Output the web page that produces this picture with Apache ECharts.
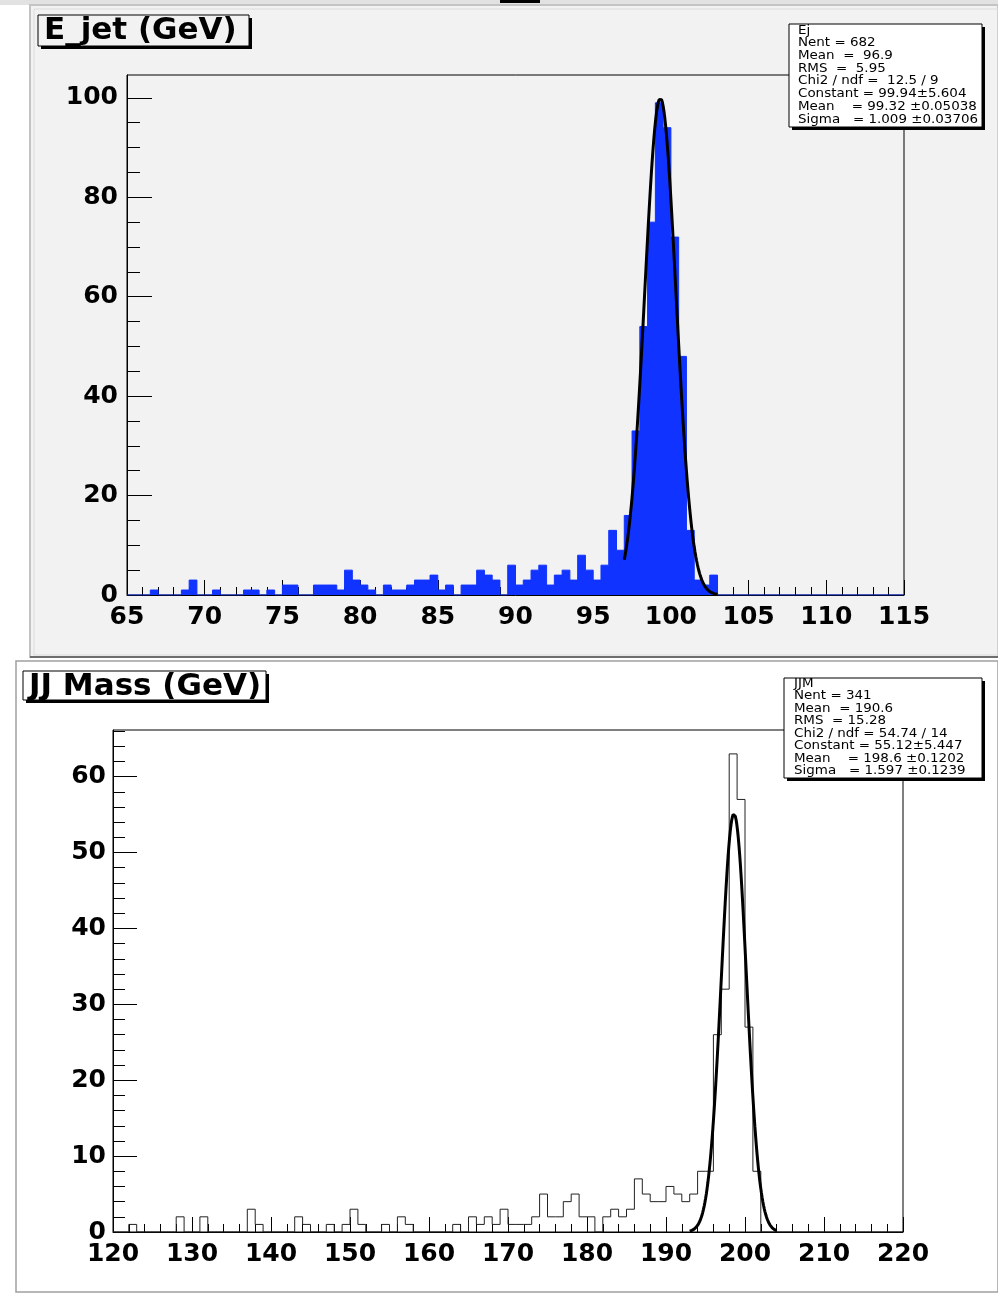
<!DOCTYPE html>
<html>
<head>
<meta charset="utf-8">
<script src="https://cdn.jsdelivr.net/npm/echarts@6/dist/echarts.min.js"></script>
<style>
  html, body { margin: 0; padding: 0; background: #ffffff; }
  #chart { width: 998px; height: 1294px; }
</style>
</head>
<body>
<div id="chart"></div>
<script>
// ---- E_jet: 100 bins of 0.5 GeV between 65 and 115 ----
const eJetLow = 65;
const eJetBinWidth = 0.5;
const eJetCounts = [
  0, 0, 0, 1, 0, 0, 0, 1, 3, 0,
  0, 1, 0, 0, 0, 1, 1, 0, 1, 0,
  2, 2, 0, 0, 2, 2, 2, 1, 5, 3,
  2, 1, 0, 2, 1, 1, 2, 3, 3, 4,
  1, 2, 0, 2, 2, 5, 4, 3, 0, 6,
  2, 3, 5, 6, 2, 4, 5, 3, 8, 5,
  3, 6, 13, 9, 16, 33, 54, 75, 99, 94,
  72, 48, 13, 3, 2, 4, 0, 0, 0, 0,
  0, 0, 0, 0, 0, 0, 0, 0, 0, 0,
  0, 0, 0, 0, 0, 0, 0, 0, 0, 0
];
const eJetTicksX = [65, 70, 75, 80, 85, 90, 95, 100, 105, 110, 115];
const eJetTicksY = [0, 20, 40, 60, 80, 100];
const eJetYMax = 104.6;
// Gaussian fit of the peak
const eJetFitConstant = 99.94;
const eJetFitMean = 99.32;
const eJetFitSigma = 1.009;
const eJetFitRange = [97, 103];
const eJetStats = [
  'Ej',
  'Nent = 682',
  'Mean  =  96.9',
  'RMS  =  5.95',
  'Chi2 / ndf =  12.5 / 9',
  'Constant = 99.94\u00b15.604',
  'Mean    = 99.32 \u00b10.05038',
  'Sigma   = 1.009 \u00b10.03706'
];

// ---- JJ mass: 100 bins of 1 GeV between 120 and 220 ----
const jjLow = 120;
const jjBinWidth = 1;
const jjCounts = [
  0, 0, 1, 0, 0, 0, 0, 0, 2, 0,
  0, 2, 0, 0, 0, 0, 0, 3, 1, 0,
  0, 0, 0, 2, 1, 0, 0, 1, 0, 1,
  3, 1, 0, 0, 1, 0, 2, 1, 0, 0,
  0, 0, 0, 1, 0, 2, 1, 2, 1, 3,
  1, 1, 1, 2, 5, 2, 2, 4, 5, 2,
  2, 0, 2, 3, 2, 3, 7, 5, 4, 4,
  6, 5, 4, 5, 8, 8, 26, 32, 63, 57,
  27, 8, 0, 0, 0, 0, 0, 0, 0, 0,
  0, 0, 0, 0, 0, 0, 0, 0, 0, 0
];
const jjTicksX = [120, 130, 140, 150, 160, 170, 180, 190, 200, 210, 220];
const jjTicksY = [0, 10, 20, 30, 40, 50, 60];
const jjYMax = 66.15;
const jjFitConstant = 55.12;
const jjFitMean = 198.6;
const jjFitSigma = 1.597;
const jjFitRange = [193, 204];
const jjStats = [
  'JJM',
  'Nent = 341',
  'Mean  = 190.6',
  'RMS  = 15.28',
  'Chi2 / ndf = 54.74 / 14',
  'Constant = 55.12\u00b15.447',
  'Mean    = 198.6 \u00b10.1202',
  'Sigma   = 1.597 \u00b10.1239'
];

// histogram outline points (step after each bin edge)
function histSteps(low, width, counts) {
  const pts = counts.map((c, i) => [low + i * width, c]);
  pts.push([low + counts.length * width, counts[counts.length - 1]]);
  return pts;
}
// fitted gaussian sampled across its fit range
function gaussian(constant, mean, sigma, range) {
  const pts = [];
  const n = 120;
  for (let i = 0; i <= n; i++) {
    const x = range[0] + (range[1] - range[0]) * i / n;
    const t = (x - mean) / sigma;
    pts.push([x, constant * Math.exp(-0.5 * t * t)]);
  }
  return pts;
}
function minorValues(step, major, max) {
  const out = [];
  for (let v = step; v <= max + 1e-9; v += step) {
    if (Math.abs(v / major - Math.round(v / major)) > 1e-6) out.push(+v.toFixed(6));
  }
  return out;
}

const labelFont = {
  color: '#000', fontFamily: 'DejaVu Sans', fontWeight: 'bold', fontSize: 25
};
const black = { color: '#000', width: 1 };

function xAxisFor(grid, min, max, interval, ticks, minorSplit) {
  return {
    gridIndex: grid, type: 'value', min: min, max: max, interval: interval,
    axisLine: { show: true, onZero: false, lineStyle: black },
    axisTick: { show: true, inside: true, length: 15, lineStyle: black },
    minorTick: { show: true, splitNumber: minorSplit, length: 8, lineStyle: black },
    splitLine: { show: false }, minorSplitLine: { show: false },
    axisLabel: Object.assign({ margin: 10, customValues: ticks }, labelFont)
  };
}
function yAxesFor(grid, max, ticks, minor, majorLen, minorLen, margin) {
  return [{
    gridIndex: grid, type: 'value', min: 0, max: max, position: 'left',
    axisLine: { show: true, onZero: false, lineStyle: black },
    axisTick: { show: true, inside: true, length: majorLen, lineStyle: black, customValues: ticks },
    splitLine: { show: false },
    axisLabel: Object.assign({ margin: margin, customValues: ticks }, labelFont)
  }, {
    gridIndex: grid, type: 'value', min: 0, max: max, position: 'left',
    axisLine: { show: false },
    axisTick: { show: true, inside: true, length: minorLen, lineStyle: black, customValues: minor },
    splitLine: { show: false },
    axisLabel: { show: false }
  }];
}

// boxed text block (title or statistics) with a dark drop shadow
function textBox(x, y, w, h, fill, lines, opts) {
  const els = [
    { type: 'rect', z: 100, shape: { x: x + 3, y: y + 3, width: w, height: h }, style: { fill: '#000' } },
    { type: 'rect', z: 101, shape: { x: x, y: y, width: w, height: h }, style: { fill: fill, stroke: '#000', lineWidth: 1 } }
  ];
  lines.forEach((t, i) => {
    els.push({
      type: 'text', z: 102, x: x + opts.padX, y: y + opts.firstY + i * opts.lineGap,
      scaleX: opts.scaleX,
      style: {
        text: t, fill: '#000', font: opts.font, textAlign: 'left', textVerticalAlign: 'middle'
      }
    });
  });
  return els;
}

const topStatOpts = { padX: 9, firstY: 6.5, lineGap: 12.7, scaleX: 1.12, font: '12px "DejaVu Sans"' };
const bottomStatOpts = { padX: 10, firstY: 5.5, lineGap: 12.5, scaleX: 1.12, font: '12px "DejaVu Sans"' };
const titleOpts = { padX: 6, firstY: 16, lineGap: 0, scaleX: 1.0, font: 'bold 31px "DejaVu Sans"' };

const graphics = [
  // canvas backgrounds and pad borders
  { type: 'rect', z: -20, shape: { x: 0, y: 0, width: 998, height: 5 }, style: { fill: '#e2e2e2' } },
  { type: 'rect', z: -19, shape: { x: 30, y: 5, width: 968, height: 652 }, style: { fill: '#f2f2f2', stroke: '#c4c4c4', lineWidth: 2 } },
  { type: 'rect', z: -19, shape: { x: 34, y: 9, width: 964, height: 646 }, style: { fill: 'transparent', stroke: '#dcdcdc', lineWidth: 1 } },
  { type: 'rect', z: -19, shape: { x: 30, y: 656, width: 968, height: 2 }, style: { fill: '#6e6e6e' } },
  { type: 'rect', z: -17, shape: { x: 16, y: 661, width: 982, height: 631 }, style: { fill: '#ffffff', stroke: '#a0a0a0', lineWidth: 1.5 } },
  { type: 'rect', z: -16, shape: { x: 500, y: 0, width: 40, height: 3 }, style: { fill: '#000' } }
]
  .concat(textBox(38, 15, 211, 31, '#f2f2f2', ['E_jet (GeV)'], titleOpts))
  .concat(textBox(23, 671, 243, 29, '#ffffff', ['JJ Mass (GeV)'], titleOpts))
  .concat(textBox(789, 24, 193, 103, '#ffffff', eJetStats, topStatOpts))
  .concat(textBox(784, 678, 198, 100, '#ffffff', jjStats, bottomStatOpts));

const option = {
  backgroundColor: '#ffffff',
  animation: false,
  grid: [
    { left: 127, top: 75, width: 777, height: 520, show: true, borderColor: '#000', borderWidth: 1, backgroundColor: 'transparent' },
    { left: 113, top: 730, width: 790, height: 502, show: true, borderColor: '#000', borderWidth: 1, backgroundColor: 'transparent' }
  ],
  xAxis: [
    xAxisFor(0, 65, 115, 5, eJetTicksX, 5),
    xAxisFor(1, 120, 220, 10, jjTicksX, 5)
  ],
  yAxis: yAxesFor(0, eJetYMax, eJetTicksY, minorValues(5, 20, eJetYMax), 25, 13, 9)
    .concat(yAxesFor(1, jjYMax, jjTicksY, minorValues(2, 10, jjYMax), 24, 12, 7)),
  series: [
    {
      type: 'line', xAxisIndex: 0, yAxisIndex: 0, step: 'end', showSymbol: false, silent: true,
      data: histSteps(eJetLow, eJetBinWidth, eJetCounts),
      lineStyle: { color: '#1133ff', width: 1 },
      areaStyle: { color: '#1133ff', opacity: 1 }, z: 3
    },
    {
      type: 'line', xAxisIndex: 0, yAxisIndex: 0, showSymbol: false, silent: true,
      data: gaussian(eJetFitConstant, eJetFitMean, eJetFitSigma, eJetFitRange),
      lineStyle: { color: '#000', width: 3 }, z: 4
    },
    {
      type: 'line', xAxisIndex: 1, yAxisIndex: 2, step: 'end', showSymbol: false, silent: true,
      data: histSteps(jjLow, jjBinWidth, jjCounts),
      lineStyle: { color: '#222', width: 1 }, z: 3
    },
    {
      type: 'line', xAxisIndex: 1, yAxisIndex: 2, showSymbol: false, silent: true,
      data: gaussian(jjFitConstant, jjFitMean, jjFitSigma, jjFitRange),
      lineStyle: { color: '#000', width: 3 }, z: 4
    }
  ],
  graphic: { elements: graphics }
};

const chart = echarts.init(document.getElementById('chart'), null, { renderer: 'canvas' });
chart.setOption(option);
</script>
</body>
</html>
